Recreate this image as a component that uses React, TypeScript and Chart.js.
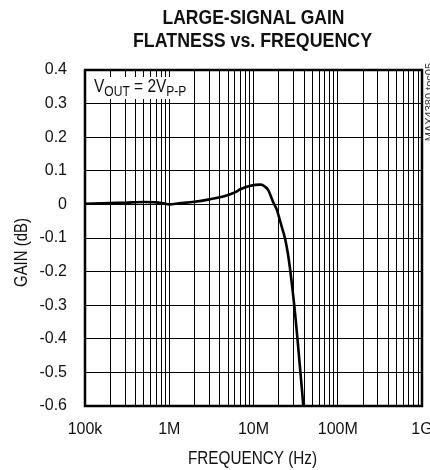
import React, { useEffect, useRef } from "react";
import { Chart, registerables } from "chart.js";

Chart.register(...registerables);

// ---- data ----
const frequencies = [
  1e5, 2e5, 3e5, 5e5, 7e5, 8.5e5, 1e6, 1.3e6, 2e6, 3e6, 4e6, 5e6, 6e6, 7e6, 8e6, 9e6,
  1.05e7, 1.2e7, 1.3e7, 1.49e7, 1.71e7, 1.9e7, 2.04e7, 2.23e7, 2.37e7, 2.55e7, 2.71e7, 2.9e7, 3.11e7, 3.38e7, 3.77e7, 3.9e7,
];
const gainDb = [
  0.002, 0.004, 0.005, 0.007, 0.006, 0.003, 0.0, 0.003, 0.008, 0.015, 0.021, 0.028, 0.036, 0.045, 0.051, 0.055,
  0.058, 0.059, 0.057, 0.043, 0.007, -0.017, -0.044, -0.078, -0.102, -0.144, -0.19, -0.252, -0.322, -0.42, -0.555, -0.6,
];

const xDecades = [1e5, 1e6, 1e7, 1e8];
const xMultipliers = [1, 2, 3, 4, 5, 6, 7, 8, 9];
const xMajorValues = [1e5, 1e6, 1e7, 1e8, 1e9];
const xTickLabels = ["100k", "1M", "10M", "100M", "1G"];

const yTickValues = [0.4, 0.3, 0.2, 0.1, 0, -0.1, -0.2, -0.3, -0.4, -0.5, -0.6];
const yTickLabels = ["0.4", "0.3", "0.2", "0.1", "0", "-0.1", "-0.2", "-0.3", "-0.4", "-0.5", "-0.6"];

const titleLines = ["LARGE-SIGNAL GAIN", "FLATNESS vs. FREQUENCY"];
const xAxisTitle = "FREQUENCY (Hz)";
const yAxisTitle = "GAIN (dB)";
const annotationParts: [string, boolean][] = [
  ["V", false],
  ["OUT", true],
  [" = 2V", false],
  ["P-P", true],
];
const figureId = "MAX4380 toc05";

const FONT = "'Liberation Sans', Arial, sans-serif";
const INK = "#111";

const xTickValues: number[] = [];
xDecades.forEach((d) => xMultipliers.forEach((m) => xTickValues.push(m * d)));
xTickValues.push(1e9);

// draw text horizontally condensed to a target width (reference uses a condensed face)
function fitText(ctx: CanvasRenderingContext2D, text: string, cx: number, y: number, targetW: number) {
  const w = ctx.measureText(text).width;
  const s = targetW / w;
  ctx.save();
  ctx.translate(cx, y);
  ctx.scale(s, 1);
  ctx.textAlign = "center";
  ctx.fillText(text, 0, 0);
  ctx.restore();
}

const decorPlugin = {
  id: "decor",
  afterDraw(chart: any) {
    const { ctx, chartArea } = chart;
    const { left, right, top, bottom } = chartArea;
    ctx.save();
    // frame
    ctx.strokeStyle = "#000";
    ctx.lineWidth = 2.5;
    ctx.strokeRect(left, top, right - left, bottom - top);

    // title
    ctx.fillStyle = INK;
    ctx.textBaseline = "alphabetic";
    ctx.font = `bold 19.5px ${FONT}`;
    fitText(ctx, titleLines[0], 253.5, 23.5, 182);
    fitText(ctx, titleLines[1], 252.5, 47, 239);

    // x axis title
    ctx.font = `17.5px ${FONT}`;
    fitText(ctx, xAxisTitle, 252.5, 463.5, 129);

    // y axis title
    ctx.save();
    ctx.translate(26.5, 252.5);
    ctx.rotate(-Math.PI / 2);
    fitText(ctx, yAxisTitle, 0, 0, 69);
    ctx.restore();

    // annotation box
    ctx.fillStyle = "#fff";
    ctx.fillRect(left + 2, 77, 103, 22);
    ctx.fillStyle = INK;
    ctx.textAlign = "left";
    ctx.save();
    ctx.translate(94, 0);
    ctx.scale(0.86, 1);
    let x = 0;
    annotationParts.forEach(([txt, sub]) => {
      ctx.font = sub ? `14px ${FONT}` : `18px ${FONT}`;
      ctx.fillText(txt, x, sub ? 95.5 : 92);
      x += ctx.measureText(txt).width;
    });
    ctx.restore();

    // figure id, rotated, clipped at right edge
    ctx.save();
    ctx.translate(433, 63);
    ctx.rotate(-Math.PI / 2);
    ctx.textAlign = "right";
    ctx.fillStyle = "#333";
    ctx.font = `11px ${FONT}`;
    ctx.fillText(figureId, 0, 0);
    ctx.restore();

    ctx.restore();
  },
};

export default function App() {
  const canvasRef = useRef<HTMLCanvasElement | null>(null);

  useEffect(() => {
    document.body.style.margin = "0";
    const canvas = canvasRef.current;
    if (!canvas) return;
    const chart = new Chart(canvas, {
      type: "line",
      data: {
        datasets: [
          {
            data: frequencies.map((f, i) => ({ x: f, y: gainDb[i] })),
            borderColor: "#000",
            borderWidth: 2.6,
            pointRadius: 0,
            fill: false,
            cubicInterpolationMode: "monotone",
          },
        ],
      },
      options: {
        animation: false,
        responsive: false,
        devicePixelRatio: window.devicePixelRatio || 1,
        layout: { padding: { top: 70, right: 8, left: 0, bottom: 0 } },
        plugins: {
          legend: { display: false },
          title: { display: false },
          tooltip: { enabled: false },
        },
        scales: {
          x: {
            type: "logarithmic",
            min: 1e5,
            max: 1e9,
            afterBuildTicks: (scale: any) => {
              scale.ticks = xTickValues.map((v) => ({ value: v }));
            },
            afterFit: (scale: any) => {
              scale.height = 64;
              scale.paddingLeft = 0;
              scale.paddingRight = 0;
            },
            grid: { color: "#000", lineWidth: 1, drawTicks: false },
            border: { display: false },
            ticks: {
              autoSkip: false,
              maxRotation: 0,
              minRotation: 0,
              padding: 14,
              color: INK,
              font: { family: FONT, size: 16 },
              callback: (value: any) => {
                const idx = xMajorValues.indexOf(Number(value));
                return idx >= 0 ? xTickLabels[idx] : "";
              },
            },
          },
          y: {
            type: "linear",
            min: -0.6,
            max: 0.4,
            afterBuildTicks: (scale: any) => {
              scale.ticks = yTickValues.map((v) => ({ value: v }));
            },
            afterFit: (scale: any) => {
              scale.width = 85;
              scale.paddingTop = 0;
              scale.paddingBottom = 0;
            },
            grid: { color: "#000", lineWidth: 1, drawTicks: false },
            border: { display: false },
            ticks: {
              padding: 18,
              color: INK,
              font: { family: FONT, size: 16 },
              callback: (value: any) => {
                const idx = yTickValues.findIndex((v) => Math.abs(v - Number(value)) < 1e-9);
                return idx >= 0 ? yTickLabels[idx] : "";
              },
            },
          },
        },
      },
      plugins: [decorPlugin],
    } as any);
    return () => chart.destroy();
  }, []);

  return (
    <div style={{ width: 430, height: 470 }}>
      <canvas ref={canvasRef} width={430} height={470} style={{ display: "block" }} />
    </div>
  );
}
